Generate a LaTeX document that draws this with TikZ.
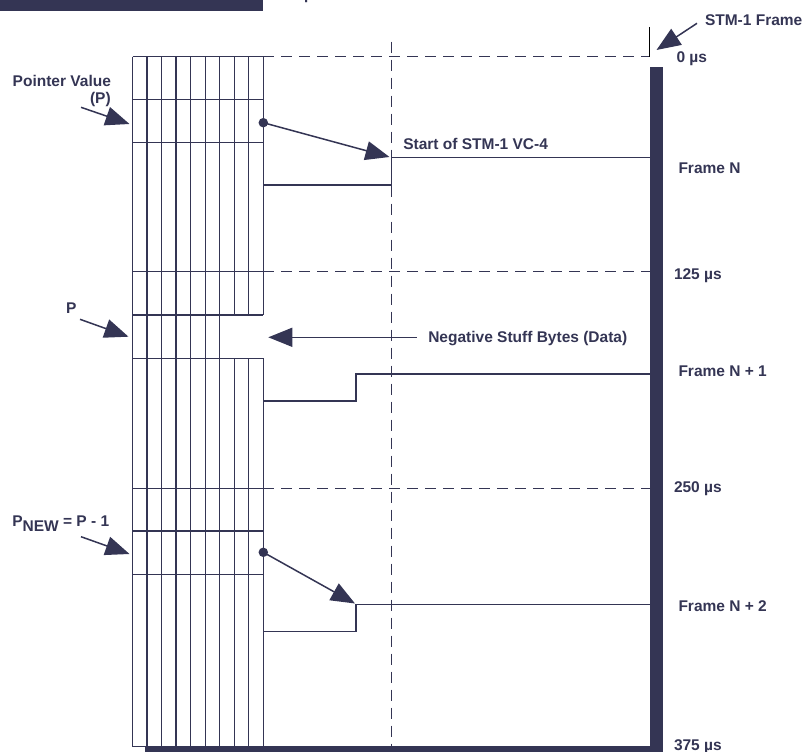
\documentclass[tikz,border=0pt]{standalone}
\usepackage{fontspec}
\setmainfont{Liberation Sans}
\usetikzlibrary{arrows.meta}
\definecolor{navy}{RGB}{52,53,84}
\begin{document}
\begin{tikzpicture}[x=1bp,y=-1bp,
  lbl/.style={anchor=base west,inner sep=0,outer sep=0,text=navy,font=\fontsize{15.5bp}{18bp}\selectfont\bfseries},
  gridline/.style={draw=navy,line width=1.3bp},
  solidline/.style={draw=navy,line width=1.5bp},
  dashline/.style={draw=navy,line width=1.4bp,dash pattern=on 11bp off 7bp},
  bigarrow/.style={draw=navy,line width=1.5bp,-{Triangle[length=24bp,width=19bp]}},
  dot/.style={circle,fill=navy,inner sep=0,minimum size=9.5bp},
]
\useasboundingbox (0,0) rectangle (808,752);

% top banner
\fill[navy] (0,0) rectangle (262.7,10.7);
\node[lbl] (toptxt) at (274,-0.3) {375 µs};

% grid vertical lines
\foreach \i in {0,...,6} {
  \draw[gridline] ({132.5+\i*14.53},56.7) -- ({132.5+\i*14.53},746.7);
}
\foreach \i in {7,8,9} {
  \draw[gridline] ({132.5+\i*14.53},56.7) -- ({132.5+\i*14.53},315);
  \draw[gridline] ({132.5+\i*14.53},358.3) -- ({132.5+\i*14.53},746.7);
}
% grid horizontal lines
\foreach \yy in {56.7,99.3,142.7,271.7,315,358.3,488.3,531,574.3} {
  \draw[gridline] (132.5,\yy) -- (263.3,\yy);
}
\draw[gridline] (132.5,746.7) -- (650,746.7);

% dashed time lines
\draw[dashline] (263.3,56.7) -- (650,56.7);
\draw[dashline] (263.3,271.7) -- (650,271.7);
\draw[dashline] (263.3,488.3) -- (650,488.3);
\draw[dashline] (391.7,41.7) -- (391.7,746.7);

% thick frame bars
\fill[navy] (650,67.5) rectangle (663.3,752);
\fill[navy] (145,746.5) rectangle (663.3,752);
\draw[black,line width=1bp] (649.8,27) -- (649.8,57);

% pointer paths
\draw[solidline] (263.3,185) -- (391.7,185) -- (391.7,157.3) -- (650,157.3);
\draw[solidline] (263.3,401) -- (356,401) -- (356,374) -- (650,374);
\draw[solidline] (263.3,631.7) -- (356,631.7) -- (356,604.3) -- (650,604.3);

% dots and arrows
\node[dot] (d1) at (263.3,122.7) {};
\node[dot] (d2) at (263.3,552.3) {};
\coordinate (t1) at (389.5,157);
\coordinate (t2) at (355,603.5);
\draw[bigarrow] (d1.center) -- (t1);
\draw[bigarrow] (d2.center) -- (t2);

\coordinate (ns0) at (416.7,337.3);
\coordinate (ns1) at (268.3,337.3);
\draw[bigarrow] (ns0) -- (ns1);

\coordinate (pa0) at (81,107.3);
\coordinate (pa1) at (129.5,124);
\draw[bigarrow] (pa0) -- (pa1);
\coordinate (pb0) at (80,319.3);
\coordinate (pb1) at (128.5,336.7);
\draw[bigarrow] (pb0) -- (pb1);
\coordinate (pc0) at (81,536.7);
\coordinate (pc1) at (129.5,554);
\draw[bigarrow] (pc0) -- (pc1);

\coordinate (sf0) at (697,23.3);
\coordinate (sf1) at (656.5,50);
\draw[bigarrow] (sf0) -- (sf1);

% labels
\node[lbl] (stm) at (705,25.7) {STM-1 Frame};
\node[lbl] (t0) at (676.5,62.7) {0 µs};
\node[lbl] (fn) at (678.5,173.3) {Frame N};
\node[lbl] (start) at (403.3,149.5) {Start of STM-1 VC-4};
\node[lbl] (t125) at (674,279.3) {125 µs};
\node[lbl] (neg) at (428.3,342.3) {Negative Stuff Bytes (Data)};
\node[lbl] (fn1) at (678.5,376) {Frame N + 1};
\node[lbl] (t250) at (674,492.3) {250 µs};
\node[lbl] (fn2) at (678.5,611.7) {Frame N + 2};
\node[lbl] (t375) at (674,750) {375 µs};
\node[lbl] (pv) at (12.7,86) {Pointer Value};
\node[lbl] (pp) at (90,103) {(P)};
\node[lbl] (p) at (66,313.3) {P};
\node[lbl] (pnew) at (12.3,526) {P\raisebox{-5bp}{NEW} = P - 1};
\end{tikzpicture}
\end{document}
